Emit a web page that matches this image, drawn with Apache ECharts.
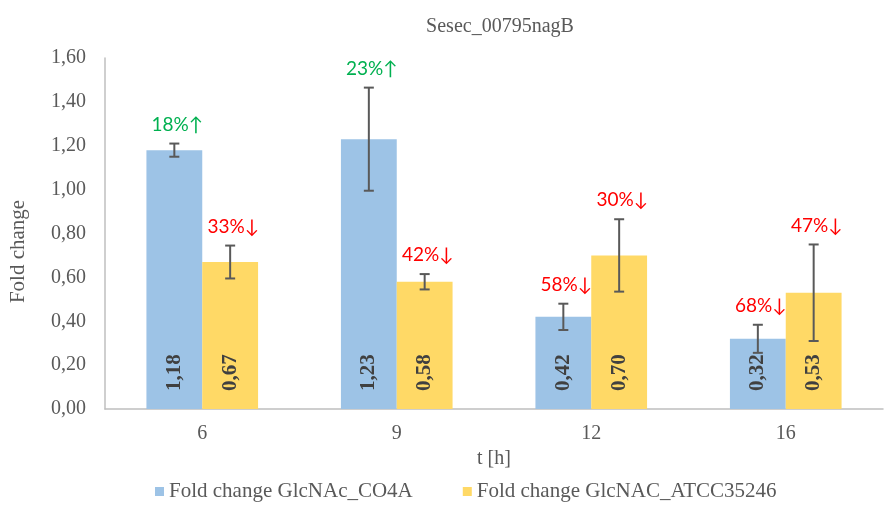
<!DOCTYPE html>
<html><head><meta charset="utf-8">
<script src="https://cdn.jsdelivr.net/npm/echarts@6/dist/echarts.min.js"></script>
<style>html,body{margin:0;padding:0;background:#fff}#c{width:885px;height:512px}</style>
</head><body><div id="c"></div>
<script>
var categories = ['6', '9', '12', '16'];
var seriesNames = ['Fold change GlcNAc_CO4A', 'Fold change GlcNAC_ATCC35246'];
var valuesCO4A = [1.18, 1.23, 0.42, 0.32];
var valuesATCC = [0.67, 0.58, 0.70, 0.53];
var errCO4A = [0.03, 0.235, 0.06, 0.064];
var errATCC = [0.075, 0.035, 0.165, 0.22];
var notesCO4A = ['18%↑', '23%↑', '58%↓', '68%↓'];
var notesATCC = ['33%↓', '42%↓', '30%↓', '47%↓'];
var notesUpCO4A = [true, true, false, false];
var notesUpATCC = [false, false, false, false];

var BAR_FRAC = 0.287;
var serif = 'Liberation Serif';
function fmt(v){ return v.toFixed(2).replace('.', ','); }

function errItem(side, vals, errs){
  return function(params, api){
    var i = api.value(0);
    var v = vals[i], e = errs[i];
    var band = api.size([1, 0])[0];
    var c = api.coord([i, v]);
    var x = c[0] + side * band * BAR_FRAC / 2;
    var top = api.coord([i, v + e])[1];
    var bot = api.coord([i, v - e])[1];
    var cap = 5;
    var st = {stroke: '#595959', lineWidth: 2};
    return {type: 'group', children: [
      {type: 'line', shape: {x1: x, y1: top, x2: x, y2: bot}, style: st},
      {type: 'line', shape: {x1: x - cap, y1: top, x2: x + cap, y2: top}, style: st},
      {type: 'line', shape: {x1: x - cap, y1: bot, x2: x + cap, y2: bot}, style: st}
    ]};
  };
}
function noteItem(side, vals, errs, notes, ups){
  return function(params, api){
    var i = api.value(0);
    var band = api.size([1, 0])[0];
    var c = api.coord([i, vals[i] + errs[i]]);
    var x = c[0] + side * band * BAR_FRAC / 2 + 3;
    return {type: 'text', x: x, y: c[1] - 19, style: {
      text: notes[i], fill: ups[i] ? '#00B050' : '#FF0000',
      font: '19px Lato, "DejaVu Sans", sans-serif', align: 'center', verticalAlign: 'middle'
    }};
  };
}
var idx = categories.map(function(_, i){ return [i]; });

var chart = echarts.init(document.getElementById('c'));
var barLabel = {
  show: true, position: 'insideBottom', rotate: 90, align: 'left', verticalAlign: 'middle',
  distance: 18, fontFamily: serif, fontWeight: 'bold', fontSize: 21, color: '#404040',
  formatter: function(p){ return fmt(p.value); }
};
chart.setOption({
  animation: false,
  title: {text: 'Sesec_00795nagB', left: 495, textAlign: 'center', top: 12,
    textStyle: {fontFamily: serif, fontSize: 20, fontWeight: 'normal', color: '#595959'}},
  legend: {data: seriesNames, bottom: 5, left: 150, itemWidth: 9, itemHeight: 9, itemGap: 50,
    icon: 'rect', textStyle: {fontFamily: serif, fontSize: 21, color: '#595959'}},
  grid: {left: 104, right: 2, top: 58, bottom: 103},
  xAxis: {type: 'category', data: categories, name: 't [h]', nameLocation: 'middle', nameGap: 38,
    nameTextStyle: {fontFamily: serif, fontSize: 20, color: '#595959'},
    axisLine: {lineStyle: {color: '#BFBFBF', width: 1.5}}, axisTick: {show: false},
    axisLabel: {fontFamily: serif, fontSize: 20, color: '#595959', margin: 15}},
  yAxis: {type: 'value', min: 0, max: 1.6, interval: 0.2, name: 'Fold change', nameLocation: 'middle',
    nameGap: 76, nameTextStyle: {fontFamily: serif, fontSize: 21, color: '#595959', padding: [0, 36, 0, 0]},
    axisLine: {show: true, lineStyle: {color: '#BFBFBF', width: 1.5}}, axisTick: {show: false},
    splitLine: {show: false},
    axisLabel: {fontFamily: serif, fontSize: 20, color: '#595959', margin: 19,
      formatter: function(v){ return fmt(v); }}},
  series: [
    {name: seriesNames[0], type: 'bar', data: valuesCO4A, barWidth: (BAR_FRAC*100)+'%', barGap: '0%',
      itemStyle: {color: '#9DC3E6'}, label: barLabel},
    {name: seriesNames[1], type: 'bar', data: valuesATCC, barWidth: (BAR_FRAC*100)+'%', barGap: '0%',
      itemStyle: {color: '#FFD966'}, label: barLabel},
    {type: 'custom', data: idx, renderItem: errItem(-1, valuesCO4A, errCO4A), z: 5},
    {type: 'custom', data: idx, renderItem: errItem(1, valuesATCC, errATCC), z: 5},
    {type: 'custom', data: idx, renderItem: noteItem(-1, valuesCO4A, errCO4A, notesCO4A, notesUpCO4A), z: 6},
    {type: 'custom', data: idx, renderItem: noteItem(1, valuesATCC, errATCC, notesATCC, notesUpATCC), z: 6}
  ]
});
</script></body></html>
